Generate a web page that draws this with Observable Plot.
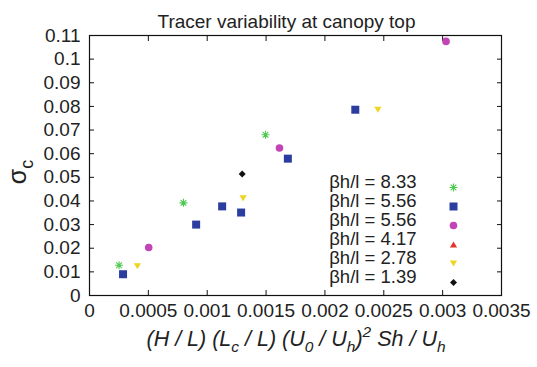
<!DOCTYPE html>
<html>
<head>
<meta charset="utf-8">
<script src="https://cdn.jsdelivr.net/npm/d3@7"></script>
<script src="https://cdn.jsdelivr.net/npm/@observablehq/plot@0.6"></script>
<style>
  html, body { margin: 0; padding: 0; background: #fff; }
  #chart { width: 537px; height: 367px; }
</style>
</head>
<body>
<div id="chart"></div>
<script>
// ---- data ----
const titleText = "Tracer variability at canopy top";
const seriesLabels = ["βh/l = 8.33", "βh/l = 5.56", "βh/l = 5.56", "βh/l = 4.17", "βh/l = 2.78", "βh/l = 1.39"];
const seriesColors = ["#4ec94e", "#2b3d9e", "#c244b6", "#e5322a", "#eed521", "#111111"];

const s833X = [0.000251, 0.000798, 0.001495];
const s833Y = [0.0128, 0.0392, 0.0680];
const s556aX = [0.000285, 0.000906, 0.001127, 0.001288, 0.001685, 0.002258];
const s556aY = [0.0090, 0.0300, 0.0377, 0.0351, 0.0579, 0.0786];
const s556bX = [0.000503, 0.001614, 0.003029];
const s556bY = [0.0203, 0.0624, 0.1075];
const s417X = [];
const s417Y = [];
const s278X = [0.000407, 0.001305, 0.002450];
const s278Y = [0.0124, 0.0411, 0.0786];
const s139X = [0.001297];
const s139Y = [0.0514];

const xTicks = [0, 0.0005, 0.001, 0.0015, 0.002, 0.0025, 0.003, 0.0035];
const xTickLabels = ["0", "0.0005", "0.001", "0.0015", "0.002", "0.0025", "0.003", "0.0035"];
const yTicks = [0, 0.01, 0.02, 0.03, 0.04, 0.05, 0.06, 0.07, 0.08, 0.09, 0.1, 0.11];
const yTickLabels = ["0", "0.01", "0.02", "0.03", "0.04", "0.05", "0.06", "0.07", "0.08", "0.09", "0.1", "0.11"];

// x label pieces: [text, 0 normal | 1 subscript | -1 superscript]
const xLabelParts = [["(H / L) (L", 0], ["c", 1], [" / L) (U", 0], ["0", 1], [" / U", 0], ["h", 1], [")", 0], ["2", -1], [" Sh / U", 0], ["h", 1]];
const yLabelParts = [["σ", 0], ["c", 1]];

// ---- symbols ----
const unit = size => Math.sqrt(size / Math.PI);
const symAsterisk = { draw(c, size) { const r = unit(size), d = r * Math.SQRT1_2;
  c.moveTo(-r, 0); c.lineTo(r, 0); c.moveTo(0, -r); c.lineTo(0, r);
  c.moveTo(-d, -d); c.lineTo(d, d); c.moveTo(-d, d); c.lineTo(d, -d); } };
const symSquare = { draw(c, size) { const r = unit(size); c.rect(-r, -r, 2 * r, 2 * r); } };
const symCircle = { draw(c, size) { const r = unit(size); c.moveTo(r, 0); c.arc(0, 0, r, 0, 2 * Math.PI); } };
const symTriUp = { draw(c, size) { const r = unit(size), h = r * 0.85;
  c.moveTo(0, -h); c.lineTo(r, h); c.lineTo(-r, h); c.closePath(); } };
const symTriDown = { draw(c, size) { const r = unit(size), h = r * 0.85;
  c.moveTo(0, h); c.lineTo(r, -h); c.lineTo(-r, -h); c.closePath(); } };
const symDiamond = { draw(c, size) { const r = unit(size);
  c.moveTo(0, -r); c.lineTo(r, 0); c.lineTo(0, r); c.lineTo(-r, 0); c.closePath(); } };

const seriesX = [s833X, s556aX, s556bX, s417X, s278X, s139X];
const seriesY = [s833Y, s556aY, s556bY, s417Y, s278Y, s139Y];
const seriesSymbols = [symAsterisk, symSquare, symCircle, symTriUp, symTriDown, symDiamond];
const seriesR = [4, 4, 3.8, 3.6, 3.6, 3.5];
const seriesStroked = [true, false, false, false, false, false];

function symbolOpts(i) {
  return seriesStroked[i]
    ? { symbol: seriesSymbols[i], r: seriesR[i], stroke: seriesColors[i], strokeWidth: 1.1, fill: "none" }
    : { symbol: seriesSymbols[i], r: seriesR[i], fill: seriesColors[i], stroke: "none" };
}

const dataMarks = seriesX.map((xs, i) =>
  Plot.dot(xs.map((x, j) => ({ x, y: seriesY[i][j] })), { x: "x", y: "y", ...symbolOpts(i) })
);

const legendMarks = seriesLabels.flatMap((lab, i) => {
  const dy = -13 - (seriesLabels.length - 1 - i) * 19;
  return [
    Plot.text([lab], { frameAnchor: "bottom-right", dx: -85, dy, textAnchor: "end", fontSize: 18.5, fill: "#222" }),
    Plot.dot([{}], { frameAnchor: "bottom-right", dx: -48, dy, ...symbolOpts(i) })
  ];
});

const xFmt = d => xTickLabels[xTicks.indexOf(d)];
const yFmt = d => yTickLabels[yTicks.indexOf(d)];
const blank = () => "";

const svg = Plot.plot({
  width: 537,
  height: 367,
  marginTop: 35,
  marginLeft: 89,
  marginRight: 36,
  marginBottom: 72,
  style: { fontFamily: "'Liberation Sans', Arial, sans-serif", fontSize: "19px", color: "#222", background: "#fff" },
  x: { domain: [0, 0.0035] },
  y: { domain: [0, 0.11] },
  marks: [
    Plot.axisX(xTicks, { anchor: "bottom", tickSize: 0, tickPadding: 8, tickFormat: xFmt, label: null, fontSize: 19 }),
    Plot.axisX(xTicks, { anchor: "bottom", tickSize: -5, tickFormat: blank, label: null, stroke: "#111" }),
    Plot.axisX(xTicks, { anchor: "top", tickSize: -5, tickFormat: blank, label: null, stroke: "#111" }),
    Plot.axisY(yTicks, { anchor: "left", tickSize: 0, tickPadding: 9, tickFormat: yFmt, label: null, fontSize: 19 }),
    Plot.axisY(yTicks, { anchor: "left", tickSize: -5, tickFormat: blank, label: null, stroke: "#111" }),
    Plot.axisY(yTicks, { anchor: "right", tickSize: -5, tickFormat: blank, label: null, stroke: "#111" }),
    Plot.frame({ stroke: "#111", strokeWidth: 1.2 }),
    ...dataMarks,
    ...legendMarks,
    Plot.text([titleText], { frameAnchor: "top", dx: -9, dy: -21, fontSize: 19, fill: "#222" })
  ]
});

const root = d3.select(svg);
function addLabel(parts, x, y, size, italic, rotate) {
  const t = root.append("text")
    .attr("text-anchor", "middle")
    .attr("fill", "#222")
    .attr("font-size", size)
    .attr("font-style", italic ? "italic" : "normal")
    .attr("transform", `translate(${x},${y})` + (rotate ? ` rotate(${rotate})` : ""));
  let shift = 0;
  parts.forEach(([txt, kind]) => {
    const target = kind === 1 ? size * 0.28 : kind === -1 ? -size * 0.42 : 0;
    const ts = t.append("tspan").text(txt).attr("dy", target - shift);
    if (kind !== 0) ts.attr("font-size", size * 0.72);
    shift = target;
  });
}
addLabel(xLabelParts, 296, 346, 21.5, true, 0);
addLabel(yLabelParts, 26, 172, 25, false, -90);

document.getElementById("chart").appendChild(svg);
</script>
</body>
</html>
